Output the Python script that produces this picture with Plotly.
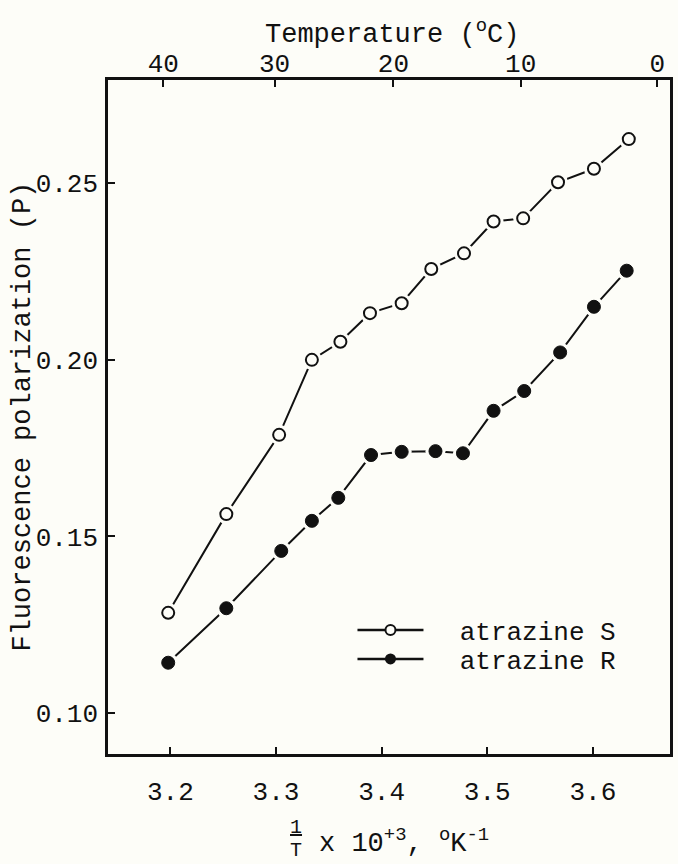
import plotly.graph_objects as go

# ---- data ----
x_S = [3.198, 3.253, 3.303, 3.334, 3.361, 3.389, 3.419, 3.447, 3.478, 3.506, 3.534, 3.567, 3.601, 3.634]
y_S = [0.1284, 0.1563, 0.1787, 0.1999, 0.2050, 0.2131, 0.2159, 0.2256, 0.2300, 0.2390, 0.2399, 0.2501, 0.2539, 0.2623]

x_R = [3.198, 3.253, 3.305, 3.334, 3.359, 3.390, 3.419, 3.451, 3.477, 3.506, 3.535, 3.569, 3.601, 3.632]
y_R = [0.1143, 0.1297, 0.1459, 0.1544, 0.1609, 0.1730, 0.1739, 0.1741, 0.1735, 0.1855, 0.1911, 0.2020, 0.2149, 0.2251]

bottom_ticks = [3.2, 3.3, 3.4, 3.5, 3.6]
y_ticks = [0.10, 0.15, 0.20, 0.25]
temp_labels = [40, 30, 20, 10, 0]
temp_tickvals = [1000.0 / (t + 273.15) for t in temp_labels]
series_names = ["atrazine S", "atrazine R"]

BG = "#fdfdf8"
INK = "#111111"
FONT = "Liberation Mono, Courier New, monospace"
TICK = 26
TITLE = 27

fig = go.Figure()

# connecting lines
for xs, ys in [(x_S, y_S), (x_R, y_R)]:
    fig.add_trace(go.Scatter(x=xs, y=ys, mode="lines", line=dict(color=INK, width=2),
                             showlegend=False, hoverinfo="skip"))
# halos (small gaps between line and marker)
for xs, ys in [(x_S, y_S), (x_R, y_R)]:
    fig.add_trace(go.Scatter(x=xs, y=ys, mode="markers",
                             marker=dict(size=20, color=BG, line=dict(width=0)),
                             showlegend=False, hoverinfo="skip"))
# markers
fig.add_trace(go.Scatter(x=x_S, y=y_S, mode="markers",
                         marker=dict(symbol="circle", size=12, color=BG, line=dict(color=INK, width=2)),
                         showlegend=False))
fig.add_trace(go.Scatter(x=x_R, y=y_R, mode="markers",
                         marker=dict(symbol="circle", size=13, color=INK, line=dict(color=INK, width=1)),
                         showlegend=False))

# legend entries (two independent legends for exact placement)
NB = "\u00a0\u00a0"
fig.add_trace(go.Scatter(x=[None], y=[None], mode="lines+markers", name=NB + series_names[0], xaxis="x2",
                         line=dict(color=INK, width=2.5), legend="legend",
                         marker=dict(symbol="circle", size=10, color=BG, line=dict(color=INK, width=2))))
fig.add_trace(go.Scatter(x=[None], y=[None], mode="lines+markers", name=NB + series_names[1], xaxis="x2",
                         line=dict(color=INK, width=2.5), legend="legend2",
                         marker=dict(symbol="circle", size=11, color=INK)))

xr = [3.141, 3.673]
yr = [0.0885, 0.279]

axis_common = dict(ticks="inside", ticklen=7, tickwidth=2, tickcolor=INK,
                   showgrid=False, zeroline=False,
                   tickfont=dict(size=TICK, family=FONT, color=INK))

leg_common = dict(xanchor="left", yanchor="middle", bgcolor="rgba(0,0,0,0)", itemwidth=66,
                  font=dict(size=TITLE - 1, family=FONT, color=INK))

fig.update_layout(
    width=678, height=864,
    margin=dict(l=108, r=5, t=80, b=110),
    paper_bgcolor=BG, plot_bgcolor=BG,
    font=dict(family=FONT, color=INK, size=TICK),
    xaxis=dict(range=xr, tickvals=bottom_ticks, tickformat=".1f",
               showline=True, linewidth=2.5, linecolor=INK, mirror=True,
               ticklabelstandoff=12, **axis_common),
    xaxis2=dict(range=xr, overlaying="x", side="top", anchor="y",
                tickvals=temp_tickvals, ticktext=[str(t) for t in temp_labels],
                showline=False, ticklabelstandoff=2, **axis_common),
    yaxis=dict(range=yr, tickvals=y_ticks, tickformat=".2f",
               showline=True, linewidth=2.5, linecolor=INK, mirror=True,
               ticklabelstandoff=2, **axis_common),
    legend=dict(x=0.435, y=(754 - 630) / 674, **leg_common),
    legend2=dict(x=0.435, y=(754 - 659) / 674, **leg_common),
    showlegend=True,
)

annotations = [
    dict(text="Fluorescence polarization (P)", textangle=-90, xref="paper", yref="paper",
         x=-0.152, y=0.50, xanchor="center", yanchor="middle", showarrow=False,
         font=dict(size=TITLE, family=FONT, color=INK)),
    dict(text="Temperature (<sup>o</sup>C)", xref="paper", yref="paper",
         x=0.505, y=1.07, xanchor="center", yanchor="middle", showarrow=False,
         font=dict(size=TITLE, family=FONT, color=INK)),
    dict(text="<u>1</u>", xref="paper", yref="paper",
         x=(297 - 108) / 565, y=(754 - 827) / 674, xanchor="center", yanchor="middle", showarrow=False,
         font=dict(size=20, family=FONT, color=INK)),
    dict(text="T", xref="paper", yref="paper",
         x=(297 - 108) / 565, y=(754 - 850) / 674, xanchor="center", yanchor="middle", showarrow=False,
         font=dict(size=20, family=FONT, color=INK)),
    dict(text="x 10<sup>+3</sup>, <sup>o</sup>K<sup>-1</sup>", xref="paper", yref="paper",
         x=(318 - 108) / 565, y=(754 - 841) / 674, xanchor="left", yanchor="middle", showarrow=False,
         font=dict(size=TITLE, family=FONT, color=INK)),
]
fig.update_layout(annotations=annotations)

fig.write_html("out.html")
